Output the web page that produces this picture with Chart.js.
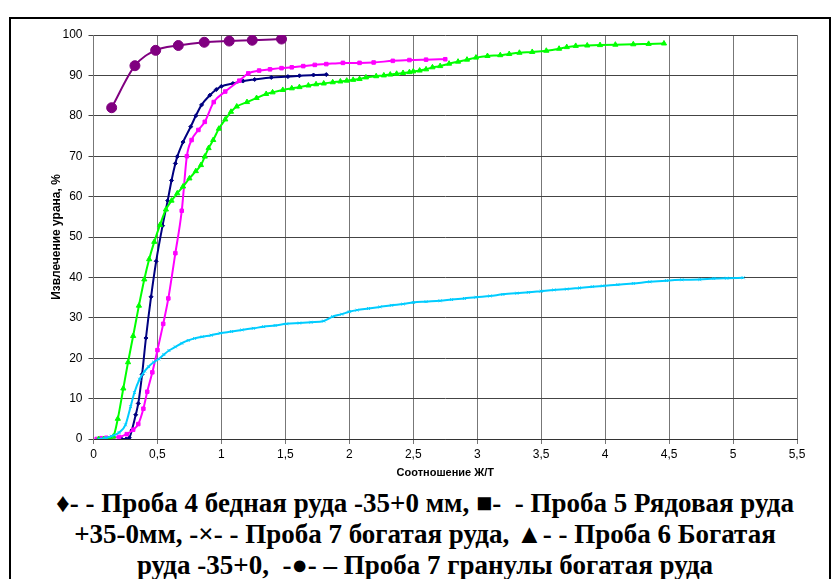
<!DOCTYPE html>
<html>
<head>
<meta charset="utf-8">
<script src="https://cdn.jsdelivr.net/npm/chart.js@4/dist/chart.umd.min.js"></script>
<style>
  body { margin: 0; background: #fff; width: 835px; height: 579px; overflow: hidden; position: relative; }
  #frame { position: absolute; left: 9px; top: 17px; width: 822px; height: 600px; border: 2px solid #000; box-sizing: border-box; }
  #wrap { position: absolute; left: 0; top: 0; }
  #legend { position: absolute; left: 0; top: 488px; width: 850px; text-align: center; white-space: nowrap;
    font: bold 27px "Liberation Serif", "Times New Roman", serif; line-height: 31px; color: #000; }
</style>
</head>
<body>
<div id="frame"></div>
<div id="wrap"><canvas id="chart" width="835" height="480"></canvas></div>
<div id="legend">
  ♦- - Проба 4 бедная руда -35+0 мм, ■-&nbsp; - Проба 5 Рядовая руда<br>
  +35-0мм, -×- - Проба 7 богатая руда, ▲- - Проба 6 Богатая<br>
  руда -35+0,&nbsp; -●- – Проба 7 гранулы богатая руда
</div>
<script>
// Проба 4 бедная руда (синяя)
const p4X = [0.22, 0.255, 0.28, 0.30, 0.33, 0.35, 0.38, 0.41, 0.45, 0.49, 0.54, 0.58, 0.61, 0.64, 0.655, 0.70, 0.76, 0.80, 0.845, 0.91, 0.96, 1.0, 1.09, 1.17, 1.26, 1.39, 1.52, 1.61, 1.72, 1.82];
const p4Y = [0, 0, 0.3, 2.2, 6, 8.8, 16, 25, 35.2, 44, 52.8, 59, 64, 68.2, 69.9, 73.5, 77.3, 80, 82.7, 85.1, 86.5, 87.3, 88.0, 88.6, 89.0, 89.5, 89.7, 89.9, 90.1, 90.2];

// Проба 5 рядовая руда (розовая)
const p5X = [0.025, 0.06, 0.1, 0.15, 0.2, 0.26, 0.31, 0.35, 0.39, 0.42, 0.46, 0.5, 0.545, 0.585, 0.64, 0.69, 0.73, 0.767, 0.82, 0.87, 0.94, 1.03, 1.14, 1.21, 1.295, 1.38, 1.47, 1.55, 1.64, 1.73, 1.82, 1.95, 2.08, 2.19, 2.34, 2.47, 2.60, 2.75];
const p5Y = [0, 0.2, 0.3, 0.4, 0.5, 1.2, 2.3, 3.7, 7.5, 11.7, 16.5, 22, 28.5, 34.8, 46, 56.5, 70, 74, 76.5, 78.5, 83.4, 86, 88.7, 90.5, 91.2, 91.5, 91.8, 92.0, 92.3, 92.6, 92.8, 93.1, 93.1, 93.2, 93.6, 93.8, 93.9, 94.0];

// Проба 7 богатая руда (голубая)
const p7X = [0.04, 0.1, 0.14, 0.2, 0.25, 0.29, 0.32, 0.36, 0.4, 0.43, 0.47, 0.51, 0.55, 0.59, 0.64, 0.69, 0.74, 0.79, 0.85, 0.92, 0.99, 1.08, 1.16, 1.25, 1.33, 1.42, 1.51, 1.61, 1.7, 1.8, 1.87, 1.94, 2.0, 2.06, 2.15, 2.24, 2.33, 2.42, 2.5, 2.6, 2.71, 2.8, 2.9, 2.99, 3.1, 3.2, 3.31, 3.4, 3.5, 3.6, 3.7, 3.8, 3.9, 3.98, 4.1, 4.22, 4.35, 4.48, 4.6, 4.74, 4.85, 4.95, 5.08];
const p7Y = [0, 0.3, 0.7, 1.6, 3.5, 8, 11.5, 14.8, 16.8, 17.9, 19, 19.8, 20.9, 21.9, 22.8, 23.7, 24.4, 24.9, 25.3, 25.7, 26.2, 26.6, 27.0, 27.4, 27.8, 28.1, 28.5, 28.7, 28.9, 29.2, 30.3, 30.9, 31.5, 31.9, 32.3, 32.7, 33.1, 33.4, 33.8, 34.0, 34.2, 34.5, 34.8, 35.1, 35.4, 35.8, 36.1, 36.3, 36.6, 36.9, 37.1, 37.4, 37.7, 37.9, 38.2, 38.5, 38.9, 39.2, 39.4, 39.5, 39.7, 39.8, 39.9];

// Проба 6 богатая руда (зелёная)
const p6X = [0.04, 0.08, 0.12, 0.155, 0.19, 0.233, 0.27, 0.31, 0.355, 0.397, 0.435, 0.475, 0.52, 0.566, 0.61, 0.655, 0.70, 0.75, 0.80, 0.84, 0.87, 0.90, 0.936, 0.98, 1.03, 1.075, 1.12, 1.2, 1.275, 1.35, 1.40, 1.48, 1.55, 1.61, 1.68, 1.74, 1.8, 1.87, 1.93, 1.98, 2.03, 2.08, 2.13, 2.21, 2.27, 2.32, 2.37, 2.42, 2.47, 2.50, 2.55, 2.60, 2.65, 2.71, 2.78, 2.85, 2.92, 2.99, 3.08, 3.18, 3.25, 3.33, 3.43, 3.54, 3.64, 3.70, 3.77, 3.86, 3.96, 4.08, 4.22, 4.34, 4.46];
const p6Y = [0, 0, 0, 0.6, 5, 12.5, 19, 25.5, 33, 39.5, 44.5, 48.8, 53, 56.8, 59, 60.8, 62.5, 64.5, 66.3, 67.8, 69.9, 72, 74, 76.8, 79.1, 81, 82.3, 83.4, 84.4, 85.4, 85.8, 86.4, 86.8, 87.1, 87.5, 87.8, 88.0, 88.3, 88.5, 88.7, 88.9, 89.1, 89.5, 89.8, 90.0, 90.2, 90.4, 90.6, 90.8, 91.0, 91.2, 91.5, 92.0, 92.3, 92.9, 93.4, 93.9, 94.4, 94.8, 95.0, 95.3, 95.6, 95.8, 96.1, 96.6, 97.0, 97.3, 97.4, 97.5, 97.6, 97.7, 97.8, 97.9];

// Проба 7 гранулы (фиолетовая)
const granX = [0.142, 0.324, 0.486, 0.663, 0.866, 1.061, 1.241, 1.47];
const granY = [82.0, 92.4, 96.2, 97.4, 98.2, 98.5, 98.7, 99.0];

const xTicks = [0, 0.5, 1, 1.5, 2, 2.5, 3, 3.5, 4, 4.5, 5, 5.5];

function pts(xs, ys) {
  return xs.map((x, i) => ({ x: x, y: ys[i] }));
}

function series(label, xs, ys, color, style, radius) {
  return {
    label: label,
    data: pts(xs, ys),
    borderColor: color,
    backgroundColor: color,
    borderWidth: 2,
    pointStyle: style,
    pointRadius: radius,
    pointBorderWidth: 1,
    cubicInterpolationMode: 'monotone',
    fill: false
  };
}

const ctx = document.getElementById('chart').getContext('2d');
new Chart(ctx, {
  type: 'line',
  data: {
    datasets: [
      series('Проба 7 богатая руда', p7X, p7Y, '#00CCFF', 'crossRot', 2),
      series('Проба 6 Богатая руда -35+0', p6X, p6Y, '#00FF00', 'triangle', 3),
      series('Проба 5 Рядовая руда +35-0мм', p5X, p5Y, '#FF00FF', 'rect', 2.5),
      series('Проба 4 бедная руда -35+0 мм', p4X, p4Y, '#000080', 'rectRot', 2),
      series('Проба 7 гранулы богатая руда', granX, granY, '#800080', 'circle', 5)
    ]
  },
  options: {
    responsive: false,
    animation: false,
    devicePixelRatio: 1,
    layout: { padding: { left: 45, top: 35, right: 38, bottom: 0 } },
    plugins: { legend: { display: false }, tooltip: { enabled: false } },
    scales: {
      x: {
        type: 'linear',
        min: 0,
        max: 5.5,
        afterBuildTicks: s => { s.ticks = xTicks.map(v => ({ value: v })); },
        afterFit: s => { s.height = 41; },
        grid: { color: '#777', tickLength: 5 },
        border: { color: '#333' },
        ticks: {
          color: '#000',
          padding: 3,
          font: { family: 'Liberation Sans', size: 12 },
          callback: v => String(v).replace('.', ',')
        },
        title: {
          display: true,
          text: 'Соотношение Ж/Т',
          color: '#000',
          padding: { top: 0, bottom: 0 },
          font: { family: 'Liberation Sans', size: 11, weight: 'bold' }
        }
      },
      y: {
        min: 0,
        max: 100,
        afterFit: s => { s.width = 48.5; },
        grid: { color: '#444', tickLength: 5 },
        border: { color: '#777' },
        ticks: {
          stepSize: 10,
          color: '#000',
          padding: 6,
          font: { family: 'Liberation Sans', size: 12 }
        },
        title: {
          display: true,
          text: 'Извлечение урана, %',
          color: '#000',
          padding: { top: 4, bottom: 0 },
          font: { family: 'Liberation Sans', size: 12, weight: 'bold' }
        }
      }
    }
  }
});
</script>
</body>
</html>
